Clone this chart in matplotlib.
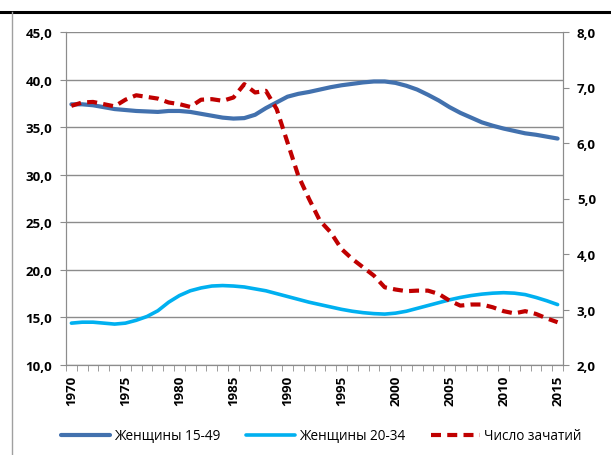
import numpy as np
import matplotlib
matplotlib.use("Agg")
import matplotlib.pyplot as plt
from matplotlib.lines import Line2D
from matplotlib.ticker import FuncFormatter, MultipleLocator

plt.rcParams['font.family'] = ['Open Sans', 'DejaVu Sans']
plt.rcParams['font.weight'] = 'bold'

years = list(range(1970, 2016))

women_15_49 = [37.4, 37.4, 37.3, 37.1, 36.9, 36.8, 36.7, 36.65, 36.6, 36.7,
               36.7, 36.6, 36.4, 36.2, 36.0, 35.9, 35.95, 36.3, 37.0, 37.6,
               38.2, 38.5, 38.7, 38.95, 39.2, 39.4, 39.55, 39.7, 39.8, 39.8,
               39.65, 39.35, 38.95, 38.4, 37.8, 37.1, 36.5, 36.0, 35.5, 35.15,
               34.85, 34.6, 34.35, 34.2, 34.0, 33.8]

women_20_34 = [14.4, 14.5, 14.5, 14.4, 14.3, 14.4, 14.7, 15.1, 15.7, 16.6,
               17.3, 17.8, 18.1, 18.3, 18.35, 18.3, 18.2, 18.0, 17.8, 17.5,
               17.2, 16.9, 16.6, 16.35, 16.1, 15.85, 15.65, 15.5, 15.4, 15.35,
               15.45, 15.65, 15.95, 16.25, 16.55, 16.85, 17.1, 17.3, 17.45, 17.55,
               17.6, 17.55, 17.4, 17.1, 16.75, 16.35]

conceptions = [6.67, 6.73, 6.74, 6.70, 6.66, 6.78, 6.86, 6.83, 6.80, 6.73,
               6.70, 6.65, 6.78, 6.79, 6.76, 6.82, 7.06, 6.91, 6.94, 6.61,
               6.01, 5.41, 4.99, 4.60, 4.39, 4.09, 3.91, 3.76, 3.61, 3.40,
               3.36, 3.33, 3.34, 3.34, 3.28, 3.16, 3.07, 3.09, 3.09, 3.04,
               2.97, 2.93, 2.97, 2.92, 2.84, 2.77]

labels = ["Женщины 15-49", "Женщины 20-34", "Число зачатий"]

grid_c = '#8c8c8c'
comma = FuncFormatter(lambda v, p: f"{v:.1f}".replace('.', ','))

fig = plt.figure(figsize=(6.11, 4.56), dpi=100)
ax = fig.add_axes([66 / 611, 1 - 366 / 456, 497 / 611, 333 / 456])
ax2 = ax.twinx()

l1, = ax.plot(years, women_15_49, color='#4271ae', lw=3.0, solid_capstyle='round')
l2, = ax.plot(years, women_20_34, color='#00b0f0', lw=2.6, solid_capstyle='round')
l3, = ax2.plot(years, conceptions, color='#c00000', lw=3.0, ls=(0, (2.4, 1.5)))

ax.set_xlim(1969.5, 2015.5)
ax.set_ylim(10, 45)
ax2.set_ylim(2, 8)
ax.yaxis.set_major_locator(MultipleLocator(5))
ax2.yaxis.set_major_locator(MultipleLocator(1))
ax.yaxis.set_major_formatter(comma)
ax2.yaxis.set_major_formatter(comma)
ax.grid(axis='y', color=grid_c, lw=1)
ax.set_axisbelow(True)

ax.set_xticks(years[::5])
ax.set_xticks(np.arange(1969.5, 2016, 1), minor=True)
ax.tick_params(axis='x', which='major', length=0, pad=7, labelsize=9.5, labelrotation=90)
ax.tick_params(axis='x', which='minor', length=4, color=grid_c)

ax.tick_params(axis='y', length=4, color=grid_c, pad=6, labelsize=9.5)
ax2.tick_params(axis='y', length=4, color=grid_c, pad=6, labelsize=9.5)

for a in (ax, ax2):
    for s in a.spines.values():
        s.set_color(grid_c)
    a.spines['top'].set_visible(False)

fig.legend([l1, l2, l3], labels, loc='center', bbox_to_anchor=(321 / 611, 1 - 437 / 456),
           ncol=3, frameon=False, prop={'size': 9.8, 'weight': 'normal'},
           handlelength=3.6, handletextpad=0.3, columnspacing=1.9)

fig.add_artist(Line2D([0, 1], [1 - 12.7 / 456] * 2, color='black', lw=2.2,
                      transform=fig.transFigure))
fig.add_artist(Line2D([11.7 / 611] * 2, [0, 1 - 13 / 456], color='#a0a0a0', lw=1.0,
                      transform=fig.transFigure))

fig.savefig('out.png', dpi=100)
